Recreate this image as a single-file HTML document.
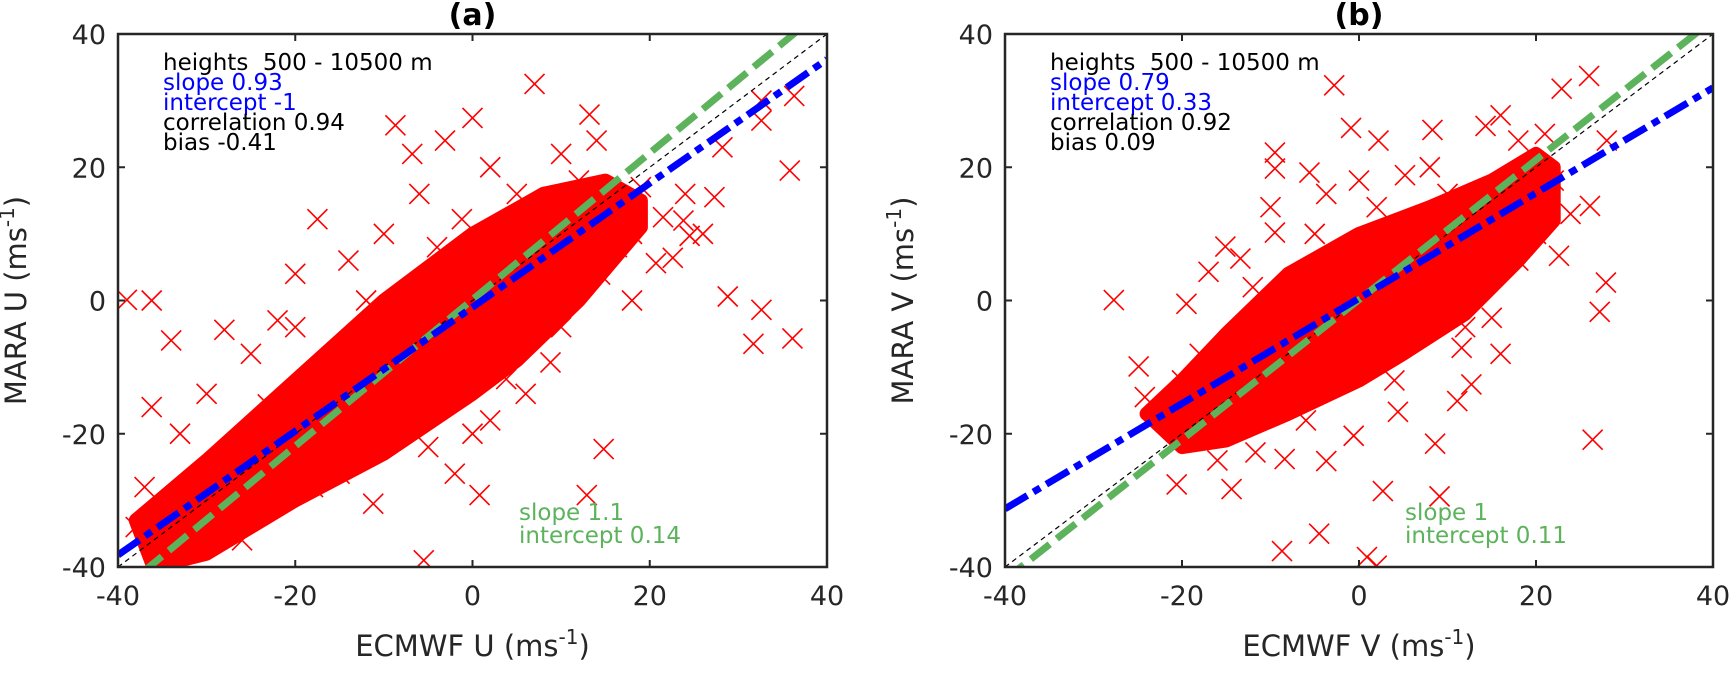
<!DOCTYPE html>
<html><head><meta charset="utf-8"><style>
body{margin:0;background:#fff}
svg text{font-family:"DejaVu Sans","Liberation Sans",sans-serif;white-space:pre}
</style></head><body>
<svg id="fig" width="1731" height="671" viewBox="0 0 1731 671" xmlns="http://www.w3.org/2000/svg"></svg>
<script>
const ticks = [-40, -20, 0, 20, 40];
const titles = ["(a)", "(b)"];
const xTitles = ["ECMWF U", "ECMWF V"];
const yTitles = ["MARA U", "MARA V"];
const statsText = [["slope 0.93","intercept -1","correlation 0.94","bias -0.41"],["slope 0.79","intercept 0.33","correlation 0.92","bias 0.09"]];
const greenText = [["slope 1.1","intercept 0.14"],["slope 1","intercept 0.11"]];
const blueSlope = [0.93, 0.79];
const blueIntercept = [-1, 0.33];
const greenSlope = [1.1, 1.05];
const greenIntercept = [0.14, 0.11];
const bandA = [[-38,-33],[-30,-24],[-20,-12],[-10,0],[0,10],[8,16],[15,18],[19,15],[19,11],[12,0],[5,-9],[0,-14],[-10,-23],[-20,-30],[-30,-38],[-36,-40]];
const bandB = [[-24,-17],[-20,-12],[-15,-5],[-8,4],[0,10],[8,14],[15,18],[20,22],[22,20],[22,12],[18,6],[12,-2],[5,-8],[0,-12],[-8,-17],[-15,-21],[-20,-22]];
const ptsA = [[7,32.5],[0,27.4],[13.2,27.9],[36.3,30.7],[32.6,30],[27.3,15.5],[35.8,19.5],[28.8,0.6],[32.6,-1.4],[31.7,-6.5],[36.1,-5.7],[14.8,-22.3],[12.9,-29.2],[0.8,-29.2],[-5.5,-39],[-11.2,-30.5],[-13.5,-23],[-39,0.1],[-36.2,0],[-34,-6],[-36.2,-16],[-28,-4.4],[-23.1,-15.6],[-18.1,-15.5],[-17.5,12.2],[-8.7,26.3],[-6.8,22],[-3.1,24],[-1.2,12.2],[23.8,12],[24.5,9.7],[21.5,12.5],[19,17],[16.5,15.5],[20.7,5.6],[14.4,3.9],[4.4,-0.2],[5,-6],[3.8,-11.8],[-0.6,-11],[8.8,-9.3],[16.3,8],[22.6,6.4],[28.2,23],[32.6,27],[-10,10],[-14,6],[-22,-3],[-25,-8],[-30,-14],[-33,-20],[-37,-28],[-35,-33],[-26,-36],[-18,-28],[-10,-20],[-5,-22],[2,-18],[6,-14],[10,-4],[18,10],[12,18],[5,16],[-4,8],[-12,0],[-20,-4],[-8,-16],[0,-20],[-15,-26],[-25,-30],[-32,-36],[-6,16],[10,22],[-28,-24],[-2,-26],[18,0],[24,16],[-38,-34],[-20,4],[2,20],[14,24],[26,10],[-16,-10]];
const ptsB = [[-27.7,0.06],[-2.8,32.3],[26,33.7],[22.9,31.8],[-9.5,22.2],[-9.5,19.8],[-0.9,25.9],[-5.6,19.2],[-3.7,16],[2.2,24],[8.3,25.6],[14.3,26.2],[16,27.8],[5.2,18.8],[-9.5,10.2],[-15.1,8.1],[-13.4,6.3],[-17,4.3],[-19.5,-0.5],[-24.9,-9.9],[-24.2,-14.5],[-20.6,-27.6],[-14.4,-28.3],[2.7,-28.6],[9.1,-29.4],[8.6,-21.5],[4.4,-16.7],[-4.5,-35],[-8.7,-37.6],[0.9,-38.5],[2,-39.8],[26.4,-20.9],[27.2,-1.7],[27.9,2.7],[26.1,14.2],[23.9,13],[22.6,6.7],[28,24],[11.6,-7.1],[12.7,-12.6],[11.1,-15.1],[15,-2.6],[-11.7,-22.8],[-8.4,-23.8],[-0.6,-20.3],[-3.7,-24.1],[20,20],[18,24],[21,25],[22,18],[-22,-18],[-18,-20],[-12,-17],[-6,-18],[4,-12],[12,-4],[18,6],[16,14],[10,16],[2,14],[-5,10],[-12,2],[-18,-8],[-20,-12],[-14,-14],[6,10],[-2,-10],[14,10],[-16,-24],[20,10],[8,20],[-10,14],[0,18],[16,-8]];
const panels = [{L:118,R:827,band:bandA,pts:ptsA,tx:163,gx:519},{L:1005,R:1713,band:bandB,pts:ptsB,tx:1050,gx:1405}];
const T = 34, B = 567;
const NS = "http://www.w3.org/2000/svg";
const svg = document.getElementById('fig');
function mk(tag, attrs, parent){const e=document.createElementNS(NS,tag);for(const k in attrs)e.setAttribute(k,attrs[k]);(parent||svg).appendChild(e);return e;}
panels.forEach((p,i)=>{
  const sx = v => p.L + (v+40)/80*(p.R-p.L);
  const sy = v => B - (v+40)/80*(B-T);
  const g = mk('g',{});
  
  
  const cp = mk('clipPath',{id:'clip'+i}, g);
  mk('rect',{x:p.L,y:T,width:p.R-p.L,height:B-T},cp);
  const plot = mk('g',{'clip-path':'url(#clip'+i+')'}, g);
  const band = mk('polygon',{points:p.band.map(d=>sx(d[0])+','+sy(d[1])).join(' '),fill:'#ff0000',stroke:'#ff0000','stroke-width':14,'stroke-linejoin':'round'},plot);
  
  
  p.pts.forEach(d=>{
    const x=sx(d[0]), y=sy(d[1]);
    const m = mk('path',{d:`M${x-10},${y-10}L${x+10},${y+10}M${x-10},${y+10}L${x+10},${y-10}`,stroke:'#ff0000','stroke-width':1.6,fill:'none'},plot);
    
    
  });
  const one = mk('line',{x1:sx(-40),y1:sy(-40),x2:sx(40),y2:sy(40),stroke:'#000','stroke-width':1.2,'stroke-dasharray':'5 4'},plot);
  
  
  const gl = mk('line',{x1:sx(-40),y1:sy(greenSlope[i]*-40+greenIntercept[i]),x2:sx(40),y2:sy(greenSlope[i]*40+greenIntercept[i]),stroke:'#5cb35c','stroke-width':7,'stroke-dasharray':'24 9'},plot);
  
  
  const bl = mk('line',{x1:sx(-40),y1:sy(blueSlope[i]*-40+blueIntercept[i]),x2:sx(40),y2:sy(blueSlope[i]*40+blueIntercept[i]),stroke:'#0000ff','stroke-width':7,'stroke-dasharray':'26 7 8 7'},plot);
  
  
  const ax = mk('rect',{x:p.L,y:T,width:p.R-p.L,height:B-T,fill:'none',stroke:'#262626','stroke-width':2.5},g);
  
  
  ticks.forEach(t=>{
    mk('line',{x1:sx(t),y1:B,x2:sx(t),y2:B-7,stroke:'#262626','stroke-width':2},g);
    mk('line',{x1:sx(t),y1:T,x2:sx(t),y2:T+7,stroke:'#262626','stroke-width':2},g);
    mk('line',{x1:p.L,y1:sy(t),x2:p.L+7,y2:sy(t),stroke:'#262626','stroke-width':2},g);
    mk('line',{x1:p.R,y1:sy(t),x2:p.R-7,y2:sy(t),stroke:'#262626','stroke-width':2},g);
    const xl = mk('text',{x:sx(t),y:B+38,'text-anchor':'middle','font-size':27,fill:'#262626'},g);
    xl.textContent = t;
    
    
    const yl = mk('text',{x:p.L-12,y:sy(t)+10,'text-anchor':'end','font-size':27,fill:'#262626'},g);
    yl.textContent = t;
    
    
  });
  const tt = mk('text',{x:(p.L+p.R)/2,y:25,'text-anchor':'middle','font-size':30,'font-weight':'bold',fill:'#000'},g);
  tt.textContent = titles[i];
  
  
  const xt = mk('text',{x:(p.L+p.R)/2,y:656,'text-anchor':'middle','font-size':29,fill:'#262626'},g);
  xt.innerHTML = xTitles[i]+' (ms<tspan dy="-12" font-size="20">-1</tspan><tspan dy="12">)</tspan>';
  
  
  const cy=(T+B)/2, cx=p.L-92;
  const yt = mk('text',{x:cx,y:cy,'text-anchor':'middle','font-size':29,fill:'#262626',transform:`rotate(-90 ${cx} ${cy})`},g);
  yt.innerHTML = yTitles[i]+' (ms<tspan dy="-12" font-size="20">-1</tspan><tspan dy="12">)</tspan>';
  
  
  const lines = ["heights  500 - 10500 m"].concat(statsText[i]);
  const cols = ['#000','#0000ff','#0000ff','#000','#000'];
  lines.forEach((s,k)=>{
    const te = mk('text',{x:p.tx,y:70+k*20,'font-size':23,fill:cols[k]},g);
    te.textContent = s;
    
    
  });
  greenText[i].forEach((s,k)=>{
    const te = mk('text',{x:p.gx,y:520+k*23,'font-size':23,fill:'#5cb35c'},g);
    te.textContent = s;
    
    
  });
});
</script>
</body></html>
